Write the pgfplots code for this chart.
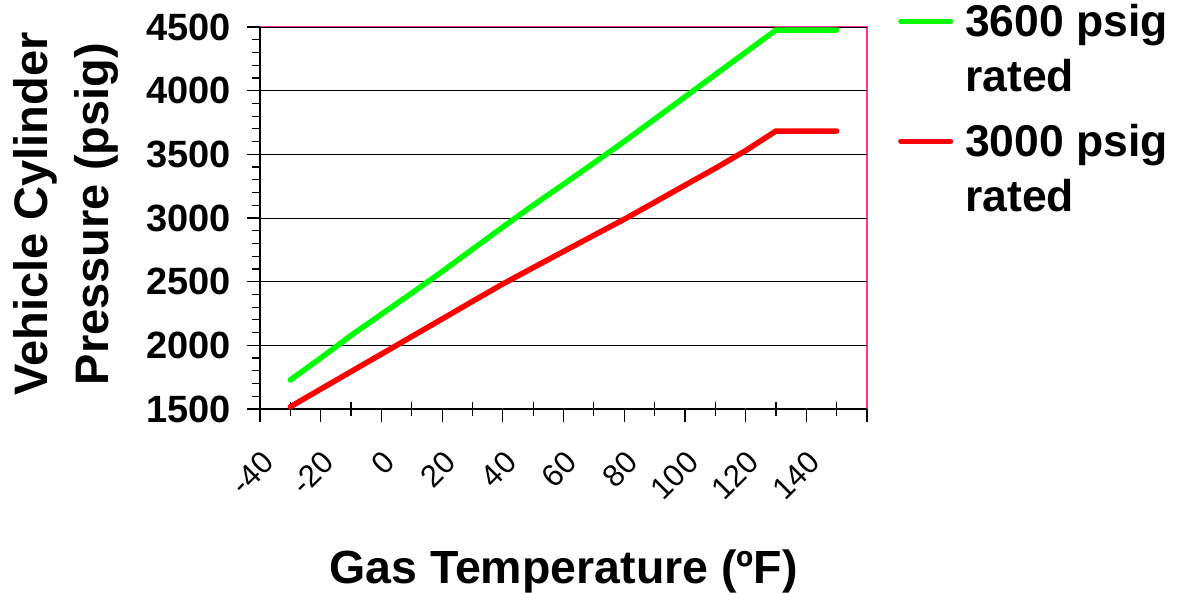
\documentclass[border=0pt]{standalone}
\usepackage{pgfplots}
\pgfplotsset{compat=1.18}
\usepackage{fontspec}
\setmainfont{Liberation Sans}
\definecolor{plotpink}{RGB}{255,51,153}
\definecolor{lgreen}{RGB}{0,255,0}
\definecolor{lred}{RGB}{255,0,0}
\begin{document}
\begin{tikzpicture}[x=1pt,y=1pt]
\useasboundingbox (0,0) rectangle (1183,592);
\begin{axis}[
  at={(260pt,183pt)}, anchor=south west,
  scale only axis, width=607pt, height=382pt,
  xmin=-40, xmax=160, ymin=1500, ymax=4500,
  clip=false,
  axis background/.style={draw=plotpink, line width=1.3pt},
  axis x line*=bottom, axis y line*=left,
  every non boxed x axis/.append style={x axis line style=-},
  every non boxed y axis/.append style={y axis line style=-},
  axis line style={black, line width=1.3pt},
  xtick={-40,-20,...,160},
  xticklabels={-40,-20,0,20,40,60,80,100,120,140,{}},
  extra x ticks={-30,-10,...,150},
  extra x tick labels={},
  extra x tick style={tick align=center, major tick length=14pt},
  ytick={1500,2000,...,4500},
  minor y tick num=4,
  tick align=outside,
  major tick length=13pt, minor tick length=8pt,
  tick style={black, line width=1.2pt},
  ymajorgrids, major grid style={black, line width=0.9pt},
  /pgf/number format/assume math mode=true,
  /pgf/number format/1000 sep={},
  yticklabel style={xshift=-16pt, anchor=east, inner sep=0pt, font=\bfseries\fontsize{38}{44}\selectfont},
  xticklabel style={xshift=8pt, yshift=-35pt, anchor=east, inner sep=0pt, rotate=45, font=\fontsize{31}{37}\selectfont},
  xlabel={Gas Temperature (ºF)},
  xlabel style={at={(axis description cs:0.5,0)}, anchor=base, yshift=-174pt, font=\bfseries\fontsize{46.5}{54}\selectfont},
  ylabel={Vehicle Cylinder\\Pressure (psig)},
  ylabel style={at={(axis description cs:-0.3204,0.5105)}, anchor=center, align=center, font=\bfseries\fontsize{47}{61}\selectfont},
  legend style={draw=none, fill=none, at={(1,1)}, anchor=north west, xshift=31pt, yshift=29pt, inner sep=0pt,
    font=\bfseries\fontsize{44.5}{55}\selectfont, nodes={inner sep=0pt, text depth=}, cells={anchor=base west},
    /tikz/column sep=12pt, /tikz/row sep=10pt},
  legend image code/.code={\draw[#1, line width=5pt, line cap=round] (2.5pt,15.5pt) -- (52.5pt,15.5pt);},
]
\addplot[lgreen, line width=5.5pt, line cap=round, line join=round] coordinates {
(-30,1728) (-20,1900) (-10,2078) (0,2244) (10,2410) (20,2579) (30,2754) (40,2929)
(50,3100) (60,3265) (70,3432) (80,3601) (90,3776) (100,3951) (110,4126) (120,4301)
(130,4476) (150,4476)};
\addlegendentry{\begin{tabular}[t]{@{}l@{}}3600 psig\\rated\end{tabular}}
\addplot[lred, line width=5.5pt, line cap=round, line join=round] coordinates {
(-30,1518) (-20,1656) (-10,1794) (0,1931) (10,2069) (20,2207) (30,2345) (40,2482)
(50,2610) (60,2737) (70,2864) (80,2990) (90,3123) (100,3257) (110,3390) (120,3529)
(130,3683) (150,3683)};
\addlegendentry{\begin{tabular}[t]{@{}l@{}}3000 psig\\rated\end{tabular}}
\end{axis}
\end{tikzpicture}
\end{document}
